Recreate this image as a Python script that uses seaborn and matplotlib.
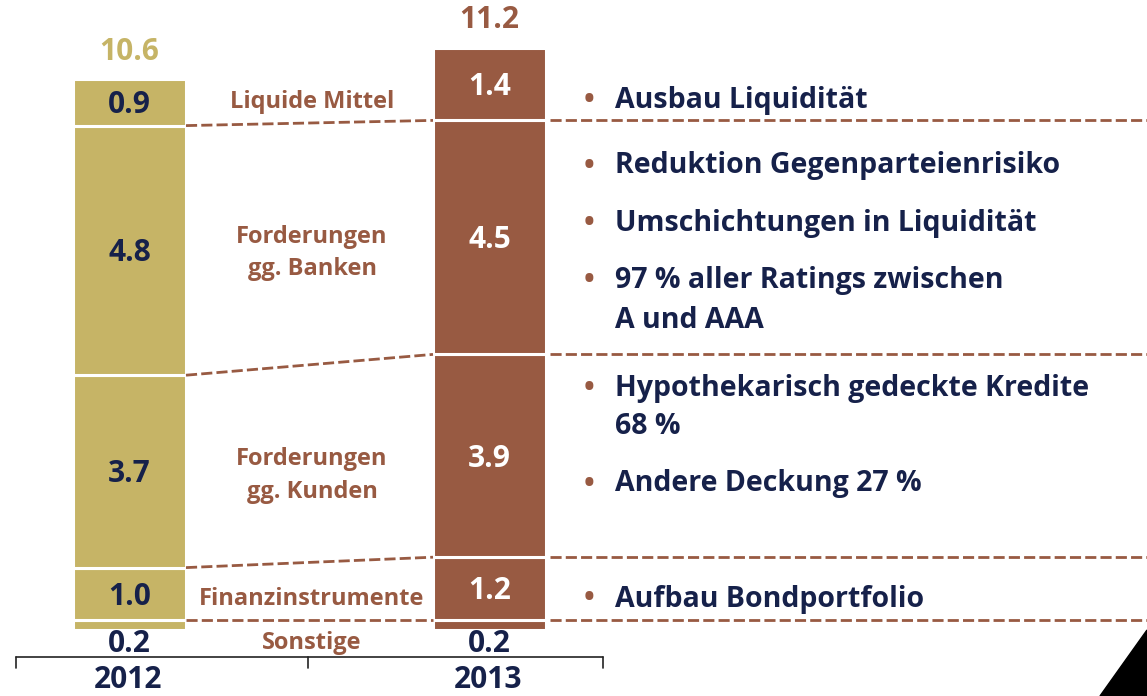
import matplotlib
matplotlib.use("Agg")
import matplotlib.pyplot as plt
import seaborn as sns
import numpy as np
import pandas as pd
from matplotlib.patches import Polygon

# ---- data ----
years = ["2012", "2013"]
segments = ["Sonstige", "Finanzinstrumente", "Forderungen\ngg. Kunden",
            "Forderungen\ngg. Banken", "Liquide Mittel"]
values_2012 = [0.2, 1.0, 3.7, 4.8, 0.9]
values_2013 = [0.2, 1.2, 3.9, 4.5, 1.4]
totals = [10.6, 11.2]
value_labels_2012 = ["0.2", "1.0", "3.7", "4.8", "0.9"]
value_labels_2013 = ["0.2", "1.2", "3.9", "4.5", "1.4"]
total_labels = ["10.6", "11.2"]
comments = [
    ["Ausbau Liquidität"],
    ["Reduktion Gegenparteienrisiko", "Umschichtungen in Liquidität",
     "97 % aller Ratings zwischen\nA und AAA"],
    ["Hypothekarisch gedeckte Kredite\n68 %", "Andere Deckung 27 %"],
    ["Aufbau Bondportfolio"],
]

GOLD = "#C6B466"
BROWN = "#985A42"
NAVY = "#16214A"

sns.set_theme(style="white")
plt.rcParams["font.family"] = ["Open Sans", "DejaVu Sans"]

W, H = 1147, 696
fig = plt.figure(figsize=(W / 100, H / 100), dpi=100)
ax = fig.add_axes([0, 0, 1, 1])

# pixel helpers (layout only)
PX_X0, PX_PER_X = 129.5, 360.0
PX_Y0, PX_PER_Y = 630.0, 52.0
TXT_DY = 3  # text baseline nudge in px
def X(px):
    return (px - PX_X0) / PX_PER_X
def Y(py):
    return (PX_Y0 - py) / PX_PER_Y
def TY(py):
    return Y(py + TXT_DY)

bar_w = 113 / PX_PER_X
vals = {"2012": values_2012, "2013": values_2013}
colors = {"2012": GOLD, "2013": BROWN}

bottoms = {y: np.concatenate([[0], np.cumsum(vals[y])[:-1]]) for y in years}
tops = {y: np.cumsum(vals[y]) for y in years}

for i, seg in enumerate(segments):
    df = pd.DataFrame({"year": years, "value": [vals[y][i] for y in years]})
    for yr in years:
        sub = df[df["year"] == yr]
        sns.barplot(data=sub, x="year", y="value", order=years, color=colors[yr],
                    saturation=1, width=bar_w, bottom=[bottoms[yr][i]],
                    edgecolor="white", linewidth=2.2, ax=ax, errorbar=None)

ax.set_xlim(X(0), X(W))
ax.set_ylim(Y(H), Y(0))
ax.axis("off")

# value labels in bars
FS_VAL = 21.5
dy = TXT_DY / PX_PER_Y
for j, yr in enumerate(years):
    labs = value_labels_2012 if yr == "2012" else value_labels_2013
    tcol = NAVY if yr == "2012" else "white"
    for i in range(len(segments)):
        if i == 0:
            ax.text(j, TY(641), labs[i], ha="center", va="center",
                    fontsize=FS_VAL, fontweight="bold", color=NAVY)
        else:
            mid = (bottoms[yr][i] + tops[yr][i]) / 2
            ax.text(j, mid - dy, labs[i], ha="center", va="center",
                    fontsize=FS_VAL, fontweight="bold", color=tcol)
    ax.text(j, totals[j] + 0.58 - dy, total_labels[j], ha="center", va="center",
            fontsize=FS_VAL, fontweight="bold", color=colors[yr])

# dashed connectors
half = bar_w / 2
for i in range(len(segments) - 1):
    y12 = tops["2012"][i]
    y13 = tops["2013"][i]
    ax.plot([0 + half, 1 - half], [y12, y13], ls=(0, (4, 1.5)), lw=2.0,
            color=BROWN, dash_capstyle="butt")
    ax.plot([1 + half + 0.01, X(W)], [y13, y13], ls=(0, (4, 1.5)), lw=2.0,
            color=BROWN, dash_capstyle="butt")

# segment names in the middle
FS_MID = 17
seg_pos = {"Liquide Mittel": [99], "Forderungen\ngg. Banken": [234, 266],
           "Forderungen\ngg. Kunden": [456, 489], "Finanzinstrumente": [596],
           "Sonstige": [640]}
for seg in segments:
    for line, py in zip(seg.split("\n"), seg_pos[seg]):
        ax.text(X(312), TY(py), line, ha="center", va="center",
                fontsize=FS_MID, fontweight="bold", color=BROWN)

# bullet comments on the right
FS_R = 20.5
comment_rows = [[[98]], [[163], [221], [278, 318]], [[386, 424], [481]], [[596]]]
for group, rows in zip(comments, comment_rows):
    for txt, pys in zip(group, rows):
        ax.text(X(589), TY(pys[0]), "•", ha="center", va="center",
                fontsize=FS_R, fontweight="bold", color=BROWN)
        for line, py in zip(txt.split("\n"), pys):
            ax.text(X(615), TY(py), line, ha="left", va="center",
                    fontsize=FS_R, fontweight="bold", color=NAVY)

# bottom axis with year labels
ax.plot([X(16), X(603)], [Y(657), Y(657)], color="#222222", lw=1.2)
for px in (16, 308, 603):
    ax.plot([X(px), X(px)], [Y(657), Y(668)], color="#222222", lw=1.2)
for j, yr in enumerate(years):
    ax.text(j - 0.005, Y(680), yr, ha="center", va="center",
            fontsize=FS_VAL, fontweight="bold", color=NAVY)

# decorative corner
tri = Polygon([[1100 / W, 0], [1.0, (H - 630) / H], [1.0, 0]],
              closed=True, transform=fig.transFigure, color="black")
fig.patches.append(tri)

fig.savefig("out.png", dpi=100)
